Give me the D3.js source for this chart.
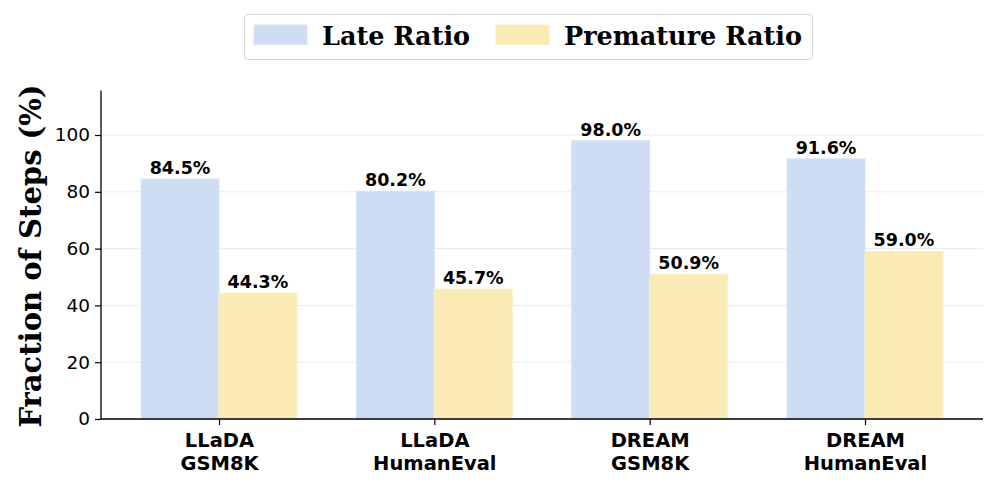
<!DOCTYPE html>
<html><head><meta charset="utf-8">
<script src="https://cdn.jsdelivr.net/npm/d3@7"></script>
<style>body{margin:0;background:#fff;} svg{display:block;}</style>
</head><body><div id="chart"></div>
<script>
const categories = [["LLaDA","GSM8K"],["LLaDA","HumanEval"],["DREAM","GSM8K"],["DREAM","HumanEval"]];
const seriesNames = ["Late Ratio","Premature Ratio"];
const lateRatio = [84.5, 80.2, 98.0, 91.6];
const prematureRatio = [44.3, 45.7, 50.9, 59.0];
const yTicks = [0,20,40,60,80,100];
const colors = ["#cedcf4","#faebb5"];
const strokes = ["#d8e4f7","#fbefc2"];

const W=997,H=488;
const svg=d3.select("#chart").append("svg").attr("width",W).attr("height",H);
const pL=101,pR=983,pT=90.6,pB=419;
const barW=0.362;
const x=d3.scaleLinear().domain([-0.548,3.548]).range([pL,pR]);
const y=d3.scaleLinear().domain([0,115.64]).range([pB,pT]);

// grid
svg.append("g").selectAll("line").data(yTicks).join("line")
  .attr("x1",pL).attr("x2",pR).attr("y1",d=>y(d)).attr("y2",d=>y(d))
  .attr("stroke","#ebebeb").attr("stroke-width",1);

const series=[lateRatio,prematureRatio];
series.forEach((vals,si)=>{
  const off = si===0 ? -barW : 0;
  const g=svg.append("g");
  g.selectAll("rect").data(vals).join("rect")
    .attr("x",(d,i)=>x(i+off)).attr("width",x(barW)-x(0))
    .attr("y",d=>y(d)).attr("height",d=>y(0)-y(d))
    .attr("fill",colors[si]).attr("stroke",strokes[si]).attr("stroke-width",1);
  g.selectAll("text").data(vals).join("text")
    .attr("x",(d,i)=>x(i+off+barW/2)).attr("y",d=>y(d)-5)
    .attr("text-anchor","middle").attr("font-family","DejaVu Sans").attr("font-weight","bold")
    .attr("font-size",17.5).attr("fill","#000").text(d=>d.toFixed(1)+"%");
});

// y axis
const yAxis=d3.axisLeft(y).tickValues(yTicks).tickSize(6).tickPadding(5);
const ya=svg.append("g").attr("transform",`translate(${pL},0)`).call(yAxis);
ya.select(".domain").attr("d",`M0,${pT}V${pB}`).attr("stroke","#000").attr("stroke-width",1.3);
ya.selectAll(".tick line").attr("stroke","#000").attr("stroke-width",1.2);
ya.selectAll(".tick text").attr("font-family","DejaVu Sans").attr("font-size",18.5).attr("fill","#000");

// x axis
const xAxis=d3.axisBottom(x).tickValues(d3.range(categories.length)).tickSize(6).tickFormat("");
const xa=svg.append("g").attr("transform",`translate(0,${pB})`).call(xAxis);
xa.select(".domain").attr("d",`M${pL},0H${pR}`).attr("stroke","#000").attr("stroke-width",1.3);
xa.selectAll(".tick line").attr("stroke","#000").attr("stroke-width",1.2);
xa.selectAll(".tick").each(function(d,i){
  const t=d3.select(this).append("text").attr("text-anchor","middle")
    .attr("font-family","DejaVu Sans").attr("font-weight","bold").attr("font-size",19.5).attr("fill","#000");
  t.append("tspan").attr("x",0).attr("y",28).text(categories[i][0]);
  t.append("tspan").attr("x",0).attr("y",50.5).text(categories[i][1]);
});

// y label
svg.append("text").attr("transform","translate(41,256) rotate(-90)").attr("text-anchor","middle")
  .attr("font-family","DejaVu Serif").attr("font-weight","bold").attr("font-size",29).attr("fill","#000")
  .text("Fraction of Steps (%)");

// legend
const lg=svg.append("g");
lg.append("rect").attr("x",244.5).attr("y",14.5).attr("width",568).attr("height",45).attr("rx",4)
  .attr("fill","#fff").attr("stroke","#d6d6d6").attr("stroke-width",1.2);
const legX=[254,496];
const legTX=[322,564];
seriesNames.forEach((n,i)=>{
  lg.append("rect").attr("x",legX[i]).attr("y",25).attr("width",53).attr("height",19.5)
    .attr("fill",colors[i]).attr("stroke",strokes[i]);
  lg.append("text").attr("x",legTX[i]).attr("y",45).attr("font-family","DejaVu Serif").attr("font-weight","bold")
    .attr("font-size",25.5).attr("fill","#000").text(n);
});
</script></body></html>
